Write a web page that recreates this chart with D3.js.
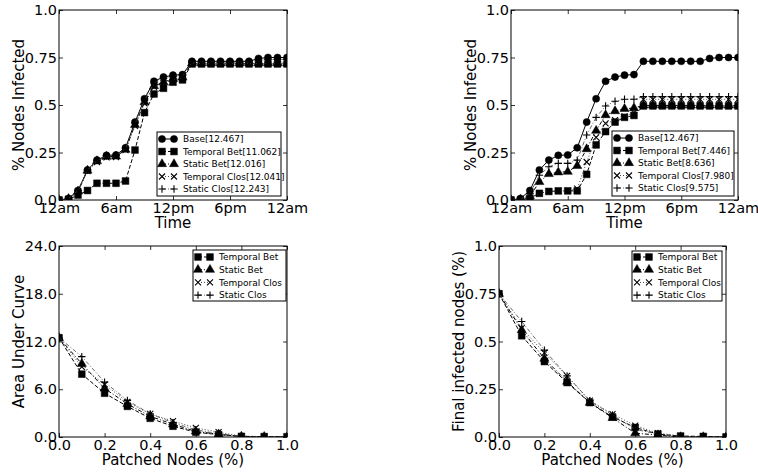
<!DOCTYPE html>
<html>
<head>
<meta charset="utf-8">
<script src="https://cdnjs.cloudflare.com/ajax/libs/d3/7.8.5/d3.min.js"></script>
<style>
body { margin: 0; background: #fff; }
svg text { font-family: "DejaVu Sans", sans-serif; fill: #000; }
</style>
</head>
<body>
<div id="chart"></div>
<script>
// x values
const hours = [0, 1, 2, 3, 4, 5, 6, 7, 8, 9, 10, 11, 12, 13, 14, 15, 16, 17, 18, 19, 20, 21, 22, 23, 24];
const hourTicks = [0, 6, 12, 18, 24];
const hourLabels = ["12am", "6am", "12pm", "6pm", "12am"];
const patched = [0, 0.1, 0.2, 0.3, 0.4, 0.5, 0.6, 0.7, 0.8, 0.9, 1.0];
const patchedTicks = [0, 0.2, 0.4, 0.6, 0.8, 1.0];
const patchedLabels = ["0.0", "0.2", "0.4", "0.6", "0.8", "1.0"];
const fracTicks = [0, 0.25, 0.5, 0.75, 1.0];
const fracLabels = ["0.0", "0.25", "0.5", "0.75", "1.0"];
const aucTicks = [0, 6, 12, 18, 24];
const aucLabels = ["0.0", "6.0", "12.0", "18.0", "24.0"];

// top left: infection over time
const tlBase = [0, 0.008, 0.05, 0.158, 0.21, 0.235, 0.237, 0.275, 0.41, 0.533, 0.625, 0.647, 0.657, 0.66, 0.73, 0.73, 0.73, 0.73, 0.73, 0.73, 0.73, 0.745, 0.75, 0.75, 0.75];
const tlTempBet = [0, 0.003, 0.026, 0.05, 0.088, 0.088, 0.088, 0.1, 0.263, 0.46, 0.558, 0.588, 0.62, 0.632, 0.716, 0.716, 0.716, 0.716, 0.716, 0.716, 0.716, 0.716, 0.716, 0.716, 0.716];
const tlStatBet = [0, 0.006, 0.045, 0.155, 0.205, 0.228, 0.229, 0.265, 0.395, 0.515, 0.6, 0.62, 0.638, 0.645, 0.72, 0.72, 0.72, 0.72, 0.72, 0.72, 0.72, 0.72, 0.72, 0.72, 0.72];
const tlTempClos = [0, 0.006, 0.045, 0.152, 0.2, 0.224, 0.226, 0.262, 0.39, 0.508, 0.595, 0.615, 0.632, 0.64, 0.718, 0.718, 0.718, 0.718, 0.718, 0.718, 0.718, 0.718, 0.718, 0.718, 0.718];
const tlStatClos = [0, 0.008, 0.05, 0.157, 0.208, 0.232, 0.235, 0.272, 0.405, 0.525, 0.615, 0.64, 0.65, 0.655, 0.725, 0.725, 0.725, 0.725, 0.725, 0.725, 0.725, 0.735, 0.74, 0.74, 0.74];
const tlNames = ["Base[12.467]", "Temporal Bet[11.062]", "Static Bet[12.016]", "Temporal Clos[12.041]", "Static Clos[12.243]"];

// top right
const trBase = [0, 0.008, 0.05, 0.158, 0.21, 0.235, 0.237, 0.275, 0.41, 0.533, 0.625, 0.647, 0.657, 0.66, 0.73, 0.73, 0.73, 0.73, 0.73, 0.73, 0.73, 0.745, 0.75, 0.75, 0.75];
const trTempBet = [0, 0, 0.01, 0.035, 0.045, 0.048, 0.048, 0.048, 0.135, 0.29, 0.36, 0.41, 0.435, 0.445, 0.495, 0.495, 0.495, 0.495, 0.495, 0.495, 0.495, 0.495, 0.495, 0.495, 0.495];
const trStatBet = [0, 0.002, 0.02, 0.095, 0.137, 0.146, 0.149, 0.18, 0.268, 0.365, 0.447, 0.468, 0.48, 0.484, 0.498, 0.498, 0.498, 0.498, 0.498, 0.498, 0.498, 0.498, 0.498, 0.498, 0.498];
const trTempClos = [0, 0, 0.01, 0.035, 0.045, 0.048, 0.048, 0.06, 0.2, 0.33, 0.403, 0.42, 0.44, 0.46, 0.53, 0.53, 0.53, 0.53, 0.53, 0.53, 0.53, 0.53, 0.53, 0.53, 0.53];
const trStatClos = [0, 0.004, 0.035, 0.13, 0.175, 0.193, 0.193, 0.21, 0.342, 0.435, 0.495, 0.52, 0.53, 0.53, 0.544, 0.544, 0.544, 0.544, 0.544, 0.544, 0.544, 0.544, 0.544, 0.544, 0.544];
const trNames = ["Base[12.467]", "Temporal Bet[7.446]", "Static Bet[8.636]", "Temporal Clos[7.980]", "Static Clos[9.575]"];

// bottom left: area under curve vs patched
const blTempBet = [12.47, 7.9, 5.5, 3.85, 2.35, 1.35, 0.6, 0.3, 0.08, 0.05, 0.03];
const blStatBet = [12.47, 9.2, 6.1, 4.15, 2.6, 1.6, 0.7, 0.35, 0.06, 0.03, 0.0];
const blTempClos = [12.47, 8.8, 6.6, 4.4, 2.9, 2.0, 1.15, 0.6, 0.1, 0.05, 0.0];
const blStatClos = [12.47, 10.1, 6.9, 4.6, 2.9, 1.8, 0.9, 0.4, 0.08, 0.04, 0.0];

// bottom right: final infected vs patched
const brTempBet = [0.75, 0.53, 0.395, 0.285, 0.18, 0.105, 0.05, 0.015, 0.005, 0.003, 0.0];
const brStatBet = [0.75, 0.56, 0.41, 0.29, 0.18, 0.1, 0.02, 0.01, 0.0, 0.0, 0.0];
const brTempClos = [0.75, 0.57, 0.44, 0.32, 0.19, 0.12, 0.06, 0.02, 0.005, 0.0, 0.0];
const brStatClos = [0.75, 0.605, 0.455, 0.32, 0.19, 0.115, 0.04, 0.015, 0.0, 0.0, 0.0];
const bottomNames = ["Temporal Bet", "Static Bet", "Temporal Clos", "Static Clos"];

const styleBase = { marker: "circle", dash: null, color: "#000", lw: 1 };
const styleTempBet = { marker: "square", dash: "4,2", color: "#000", lw: 1 };
const styleStatBet = { marker: "triangle", dash: "4,2,1,2", color: "#000", lw: 1 };
const styleTempClos = { marker: "times", dash: "1,2", color: "#333", lw: 0.9 };
const styleStatClos = { marker: "plus", dash: "4,2,1,2", color: "#444", lw: 0.8 };

const svg = d3.select("#chart")
    .append("svg")
    .attr("width", 758)
    .attr("height", 472);

function markerPath(kind) {
    if (kind == "circle") return d3.symbol().type(d3.symbolCircle).size(40)();
    if (kind == "square") return d3.symbol().type(d3.symbolSquare).size(46)();
    if (kind == "triangle") return d3.symbol().type(d3.symbolTriangle).size(36)();
    if (kind == "times") return "M-3,-3L3,3M-3,3L3,-3";
    return "M-3.7,0H3.7M0,-3.7V3.7";
}

function drawMarker(g, kind, color, px, py) {
    const filled = kind == "circle" || kind == "square" || kind == "triangle";
    g.append("path")
        .attr("d", markerPath(kind))
        .attr("transform", `translate(${px},${py})`)
        .attr("fill", filled ? "#000" : "none")
        .attr("stroke", "#000")
        .attr("stroke-width", filled ? 0.5 : 1.1);
}

let clipCount = 0;

function drawPanel(cfg) {
    const left = cfg.left, top = cfg.top, width = cfg.width, height = cfg.height;
    const x = d3.scaleLinear().domain(cfg.xDomain).range([left, left + width]);
    const y = d3.scaleLinear().domain(cfg.yDomain).range([top + height, top]);

    const clipId = "clip" + (clipCount++);
    svg.append("clipPath").attr("id", clipId)
        .append("rect")
        .attr("x", left).attr("y", top)
        .attr("width", width).attr("height", height);

    const plot = svg.append("g").attr("clip-path", `url(#${clipId})`);

    cfg.series.forEach(s => {
        const line = d3.line()
            .x((d, i) => x(cfg.xs[i]))
            .y(d => y(d));
        plot.append("path")
            .datum(s.values)
            .attr("fill", "none")
            .attr("stroke", s.style.color)
            .attr("stroke-width", s.style.lw)
            .attr("stroke-dasharray", s.style.dash)
            .attr("d", line);
        s.values.forEach((v, i) => {
            drawMarker(plot, s.style.marker, s.style.color, x(cfg.xs[i]), y(v));
        });
    });

    // inward ticks on all four sides
    const fmtX = (d, i) => cfg.xLabels[i];
    const fmtY = (d, i) => cfg.yLabels[i];

    const bottomAxis = svg.append("g")
        .attr("transform", `translate(0,${top + height})`)
        .call(d3.axisBottom(x).tickValues(cfg.xTicks).tickFormat(fmtX).tickSize(-4).tickPadding(3));
    const leftAxis = svg.append("g")
        .attr("transform", `translate(${left},0)`)
        .call(d3.axisLeft(y).tickValues(cfg.yTicks).tickFormat(fmtY).tickSize(-4).tickPadding(2));
    svg.append("g")
        .attr("transform", `translate(0,${top})`)
        .call(d3.axisTop(x).tickValues(cfg.xTicks).tickFormat("").tickSize(-4));
    svg.append("g")
        .attr("transform", `translate(${left + width},0)`)
        .call(d3.axisRight(y).tickValues(cfg.yTicks).tickFormat("").tickSize(-4));

    svg.selectAll(".domain").remove();
    svg.selectAll(".tick line").attr("stroke", "#000").attr("stroke-width", 0.8);
    [bottomAxis, leftAxis].forEach(a => a.selectAll("text")
        .style("font-size", "14.5px")
        .style("font-family", "DejaVu Sans")
        .attr("fill", "#000"));

    svg.append("rect")
        .attr("x", left).attr("y", top)
        .attr("width", width).attr("height", height)
        .attr("fill", "none")
        .attr("stroke", "#000")
        .attr("stroke-width", 1);

    svg.append("text")
        .attr("x", left + width / 2)
        .attr("y", top + height + 28)
        .attr("text-anchor", "middle")
        .style("font-size", "15px")
        .text(cfg.xTitle);

    svg.append("text")
        .attr("transform", `translate(${left - 40},${top + height / 2}) rotate(-90)`)
        .attr("text-anchor", "middle")
        .attr("dy", "0.35em")
        .style("font-size", "15px")
        .text(cfg.yTitle);

    // legend
    const lg = cfg.legend;
    const legend = svg.append("g");
    legend.append("rect")
        .attr("x", lg.x).attr("y", lg.y)
        .attr("width", lg.w).attr("height", lg.h)
        .attr("fill", "#fff")
        .attr("stroke", "#000")
        .attr("stroke-width", 1);
    cfg.series.forEach((s, i) => {
        const ry = lg.row0 + i * lg.dy;
        legend.append("line")
            .attr("x1", lg.x + 5).attr("x2", lg.x + 17)
            .attr("y1", ry).attr("y2", ry)
            .attr("stroke", s.style.color)
            .attr("stroke-width", s.style.lw)
            .attr("stroke-dasharray", s.style.dash);
        drawMarker(legend, s.style.marker, s.style.color, lg.x + 5, ry);
        drawMarker(legend, s.style.marker, s.style.color, lg.x + 17, ry);
        legend.append("text")
            .attr("x", lg.x + 26)
            .attr("y", ry + 3.3)
            .style("font-size", "9px")
            .text(s.name);
    });
}

const topStyles = [styleBase, styleTempBet, styleStatBet, styleTempClos, styleStatClos];
const bottomStyles = [styleTempBet, styleStatBet, styleTempClos, styleStatClos];

drawPanel({
    left: 59, top: 10, width: 228, height: 190,
    xDomain: [0, 24], yDomain: [0, 1],
    xs: hours,
    xTicks: hourTicks, xLabels: hourLabels,
    yTicks: fracTicks, yLabels: fracLabels,
    xTitle: "Time", yTitle: "% Nodes Infected",
    series: [tlBase, tlTempBet, tlStatBet, tlTempClos, tlStatClos]
        .map((v, i) => ({ values: v, style: topStyles[i], name: tlNames[i] })),
    legend: { x: 157, y: 132, w: 124, h: 64, row0: 139, dy: 12.5 }
});

drawPanel({
    left: 511, top: 10, width: 227, height: 190,
    xDomain: [0, 24], yDomain: [0, 1],
    xs: hours,
    xTicks: hourTicks, xLabels: hourLabels,
    yTicks: fracTicks, yLabels: fracLabels,
    xTitle: "Time", yTitle: "% Nodes Infected",
    series: [trBase, trTempBet, trStatBet, trTempClos, trStatClos]
        .map((v, i) => ({ values: v, style: topStyles[i], name: trNames[i] })),
    legend: { x: 612, y: 131, w: 122, h: 65, row0: 138, dy: 12.5 }
});

drawPanel({
    left: 59, top: 246, width: 228, height: 191,
    xDomain: [0, 1], yDomain: [0, 24],
    xs: patched,
    xTicks: patchedTicks, xLabels: patchedLabels,
    yTicks: aucTicks, yLabels: aucLabels,
    xTitle: "Patched Nodes (%)", yTitle: "Area Under Curve",
    series: [blTempBet, blStatBet, blTempClos, blStatClos]
        .map((v, i) => ({ values: v, style: bottomStyles[i], name: bottomNames[i] })),
    legend: { x: 193, y: 250, w: 93, h: 51, row0: 257, dy: 12.7 }
});

drawPanel({
    left: 499, top: 246, width: 227, height: 191,
    xDomain: [0, 1], yDomain: [0, 1],
    xs: patched,
    xTicks: patchedTicks, xLabels: patchedLabels,
    yTicks: fracTicks, yLabels: fracLabels,
    xTitle: "Patched Nodes (%)", yTitle: "Final infected nodes (%)",
    series: [brTempBet, brStatBet, brTempClos, brStatClos]
        .map((v, i) => ({ values: v, style: bottomStyles[i], name: bottomNames[i] })),
    legend: { x: 632, y: 251, w: 90, h: 50, row0: 257, dy: 12.7 }
});
</script>
</body>
</html>
